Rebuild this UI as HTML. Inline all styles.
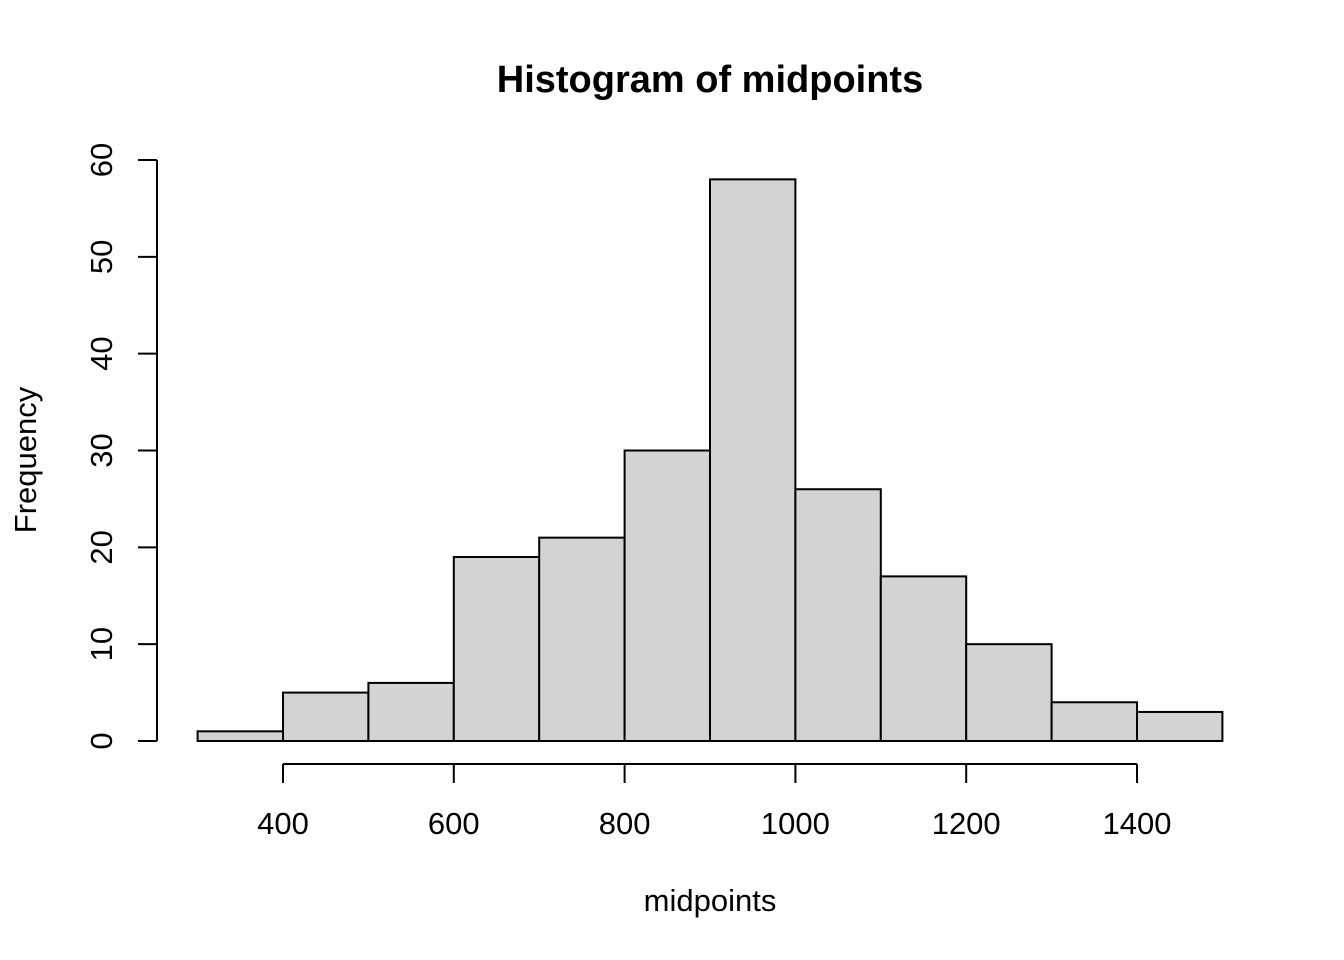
<!DOCTYPE html>
<html><head><meta charset="utf-8"><style>
body{margin:0;background:#fff}
svg{display:block;font-family:"Liberation Sans",Arial,sans-serif}
</style></head><body>
<svg id="chart" width="1344" height="960" viewBox="0 0 1344 960">
<rect width="1344" height="960" fill="#fff"/>
<text x="710" y="92" text-anchor="middle" font-size="38" font-weight="bold">Histogram of midpoints</text>
<text x="710" y="911" text-anchor="middle" font-size="31">midpoints</text>
<text transform="translate(36,460) rotate(-90)" text-anchor="middle" font-size="31">Frequency</text>
<g id="bars"></g><g id="xaxis"></g><g id="yaxis"></g>
</svg>
<script>
const breaks=[300,400,500,600,700,800,900,1000,1100,1200,1300,1400,1500];
const counts=[1,5,6,19,21,30,58,26,17,10,4,3];
const xTicks=[400,600,800,1000,1200,1400];
const yTicks=[0,10,20,30,40,50,60];
const NS="http://www.w3.org/2000/svg";
const X=v=>283+(v-400)*0.854;
const Y=v=>741-v*(581/60);
function mk(t,a,p){const e=document.createElementNS(NS,t);for(const k in a)e.setAttribute(k,a[k]);p.appendChild(e);return e;}
const bars=document.getElementById('bars');
counts.forEach((c,i)=>{
 const r=mk('rect',{x:X(breaks[i]),y:Y(c),width:X(breaks[i+1])-X(breaks[i]),height:Y(0)-Y(c),fill:'#d3d3d3',stroke:'#000','stroke-width':2},bars);
 
 
});
const xa=document.getElementById('xaxis');
const xl=mk('line',{x1:X(xTicks[0]),x2:X(xTicks[xTicks.length-1]),y1:764,y2:764,stroke:'#000','stroke-width':2},xa);


xTicks.forEach(v=>{
 const t=mk('line',{x1:X(v),x2:X(v),y1:764,y2:783,stroke:'#000','stroke-width':2},xa);
 
 
 const l=mk('text',{x:X(v),y:834,'text-anchor':'middle','font-size':31},xa);
 l.textContent=v;
 
 
});
const ya=document.getElementById('yaxis');
const yl=mk('line',{x1:157,x2:157,y1:Y(yTicks[0]),y2:Y(yTicks[yTicks.length-1]),stroke:'#000','stroke-width':2},ya);


yTicks.forEach(v=>{
 const t=mk('line',{x1:138,x2:157,y1:Y(v),y2:Y(v),stroke:'#000','stroke-width':2},ya);
 
 
 const l=mk('text',{transform:`translate(112,${Y(v)}) rotate(-90)`,'text-anchor':'middle','font-size':31},ya);
 l.textContent=v;
 
 
});
</script>
</body></html>
